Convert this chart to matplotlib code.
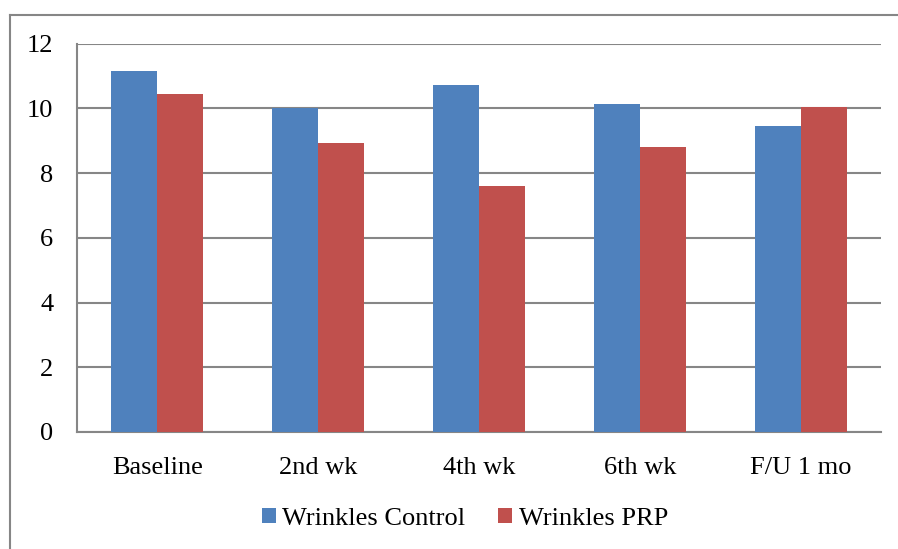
import matplotlib
matplotlib.use("Agg")
import matplotlib.pyplot as plt
import numpy as np
from matplotlib.lines import Line2D

categories = ["Baseline", "2nd wk", "4th wk", "6th wk", "F/U 1 mo"]
control = [11.16, 10.0, 10.71, 10.13, 9.44]
prp = [10.45, 8.92, 7.61, 8.79, 10.04]
series_names = ["Wrinkles Control", "Wrinkles PRP"]
yticks = [0, 2, 4, 6, 8, 10, 12]

W, H = 898, 549
fig = plt.figure(figsize=(W / 100, H / 100), dpi=100)
plt.rcParams['font.family'] = ['Liberation Serif', 'DejaVu Serif']

left, right, top, bottom = 77, 881, 43.5, 432
ax = fig.add_axes([left / W, 1 - bottom / H, (right - left) / W, (bottom - top) / H])

x = np.arange(len(categories))
bw = 46 / 160.8
blue = "#4F81BD"
red = "#C0504D"
ax.bar(x - bw / 2, control, bw, color=blue, label=series_names[0], zorder=3)
ax.bar(x + bw / 2, prp, bw, color=red, label=series_names[1], zorder=3)

ax.set_xlim(-0.5, len(categories) - 0.5)
ax.set_ylim(0, 12)
ax.set_yticks(yticks)
ax.set_yticklabels([str(t) for t in yticks])
ax.set_xticks(x)
ax.set_xticklabels(categories)
ax.tick_params(axis='both', length=0, labelsize=19, colors='black')
ax.tick_params(axis='y', pad=17)
ax.tick_params(axis='x', pad=18)
ax.yaxis.grid(True, color='#868686', linewidth=1.5, zorder=0)
ax.set_axisbelow(True)
for s in ['top', 'right']:
    ax.spines[s].set_visible(False)
for s in ['left', 'bottom']:
    ax.spines[s].set_color('#868686')
    ax.spines[s].set_linewidth(1.5)

# outer chart frame
fig.add_artist(Line2D([10 / W, 10 / W], [0, 1 - 15 / H], transform=fig.transFigure, color='#868686', lw=1.5))
fig.add_artist(Line2D([10 / W, 1], [1 - 15 / H, 1 - 15 / H], transform=fig.transFigure, color='#868686', lw=1.5))

leg = fig.legend(loc='center', bbox_to_anchor=(465 / W, 1 - 519 / H), ncol=2, frameon=False,
                 fontsize=19, handlelength=0.53, handleheight=0.53, handletextpad=0.25,
                 columnspacing=1.25)

fig.savefig("out.png", dpi=100)
